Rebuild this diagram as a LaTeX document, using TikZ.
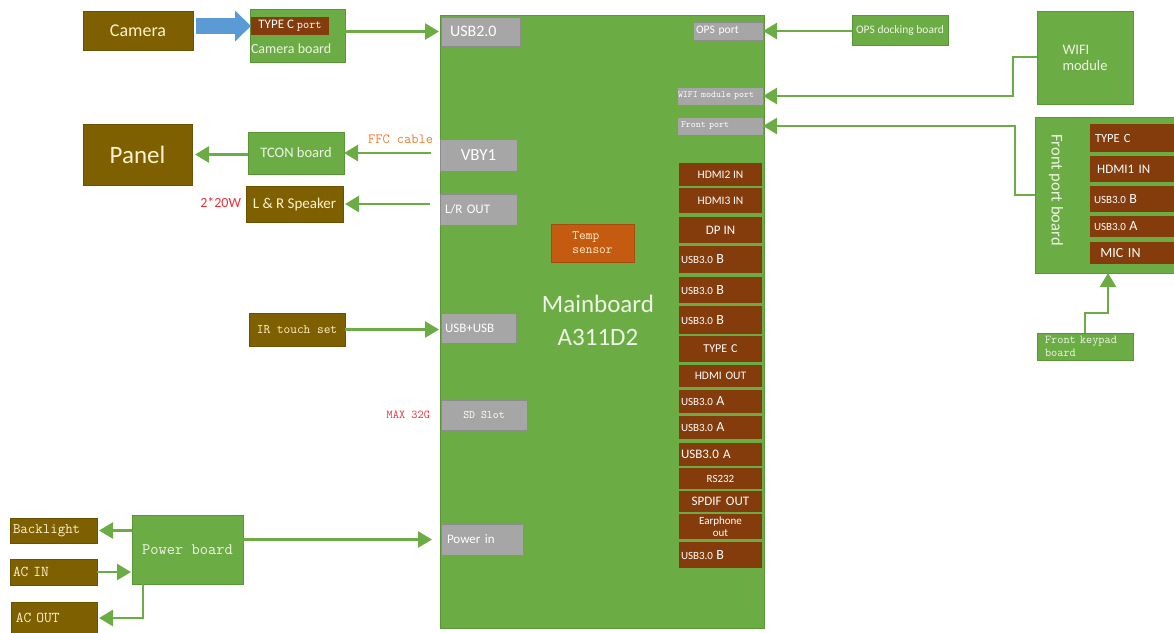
\documentclass[tikz,border=0pt]{standalone}
\usepackage{fontspec}
\setmainfont{Carlito}
\usetikzlibrary{arrows.meta}
\definecolor{gr}{HTML}{6CAC45}
\definecolor{grd}{HTML}{5A9638}
\definecolor{br}{HTML}{7F6000}
\definecolor{rb}{HTML}{843C0C}
\definecolor{gy}{HTML}{A6A6A6}
\definecolor{gyd}{HTML}{8C8C8C}
\definecolor{tmp}{HTML}{C55A11}
\definecolor{blu}{HTML}{5B9BD5}
\definecolor{cream}{HTML}{FFF2CC}
\definecolor{org}{HTML}{ED7D31}
\definecolor{rd}{HTML}{E8303A}
\definecolor{lite}{HTML}{EEF5E6}
\newcommand\fsz[1]{\fontsize{#1}{#1}\selectfont}
\newcommand\mfs[2]{\fontsize{#1}{#2}\selectfont}
\begin{document}
\begin{tikzpicture}[x=1pt,y=-1pt,
  base/.style={inner sep=0pt, outer sep=0pt, line width=1pt, anchor=center},
  gbox/.style={base, fill=gr, draw=grd, text=lite},
  bbox/.style={base, fill=br, draw=br!85!black, text=cream},
  gport/.style={base, fill=gy, draw=gyd, text=white},
  rport/.style={base, fill=rb, draw=gr, line width=1.2pt, text=white},
  conn/.style={draw=gr, line width=2.6pt, -{Triangle[length=14pt,width=16pt]}},
  wire/.style={draw=gr, line width=2.6pt},
  lbl/.style={inner sep=0pt, outer sep=0pt}]
\useasboundingbox (0,0) rectangle (1174,632);
\fill[white] (0,0) rectangle (1174,632);

% ---------- Mainboard ----------
\node[gbox, minimum width=324pt, minimum height=613pt] (mb) at (602,321.5) {};
\node[lbl, text=lite, align=center, font=\mfs{25}{33}] (mbt) at (598,320) {Mainboard\\A311D2};
\node[base, fill=tmp, draw=tmp!85!black, text=cream, minimum width=83pt, minimum height=38pt, align=left, font=\ttfamily\mfs{13}{14}] (temp) at (592.5,243) {Temp\\sensor};

% left ports
\node[gport, minimum height=29pt, text width=61pt, inner xsep=9pt, align=left, font=\fsz{16}] (usb2) at (480.5,31.5) {USB2.0};
\node[gport, minimum height=32pt, minimum width=77pt, font=\fsz{17}] (vby) at (478.5,155) {VBY1};
\node[gport, minimum height=31pt, text width=67pt, inner xsep=5pt, align=left, font=\fsz{13}] (lrout) at (478.5,209.5) {L/R OUT};
\node[gport, minimum height=30pt, text width=67pt, inner xsep=4pt, align=left, font=\fsz{13}] (usbusb) at (478.5,328) {USB+USB};
\node[gport, minimum height=30pt, minimum width=86pt, font=\ttfamily\fsz{11.5}] (sd) at (484,415) {SD Slot};
\node[gport, minimum height=31pt, text width=70pt, inner xsep=6pt, align=left, font=\fsz{13}] (pin) at (482,539.5) {Power in};

% right top ports
\node[gport, minimum height=18pt, text width=64pt, inner xsep=3pt, align=left, font=\fsz{11.5}] (opsp) at (728,31) {OPS port};
\node[gport, minimum height=18pt, text width=84pt, inner xsep=1pt, align=left, font=\ttfamily\fsz{9.5}] (wifip) at (720,96) {WIFI module port};
\node[gport, minimum height=18pt, text width=78pt, inner xsep=4pt, align=left, font=\ttfamily\fsz{9.5}] (frp) at (720,126) {Front port};

% right column
\newcommand\usbl[1]{{\fsz{11}USB3.0 }{\fsz{14}#1}}
\node[rport, minimum width=85pt, minimum height=25pt, font=\fsz{11.5}] (c1) at (720.5,174.5) {HDMI2 IN};
\node[rport, minimum width=85pt, minimum height=27pt, font=\fsz{11.5}] (c2) at (720.5,200.5) {HDMI3 IN};
\node[rport, minimum width=85pt, minimum height=28pt, font=\fsz{13}] (c3) at (720.5,230) {DP IN};
\node[rport, minimum height=29pt, text width=79pt, inner xsep=3pt, align=left] (c4) at (720.5,259.5) {\usbl{B}};
\node[rport, minimum height=28pt, text width=79pt, inner xsep=3pt, align=left] (c5) at (720.5,290) {\usbl{B}};
\node[rport, minimum height=30pt, text width=79pt, inner xsep=3pt, align=left] (c6) at (720.5,320) {\usbl{B}};
\node[rport, minimum height=28pt, text width=71pt, inner xsep=7pt, align=center, font=\fsz{12}] (c7) at (720.5,349) {TYPE C};
\node[rport, minimum height=24pt, text width=71pt, inner xsep=7pt, align=center, font=\fsz{11.5}] (c8) at (720.5,376) {HDMI OUT};
\node[rport, minimum height=25pt, text width=79pt, inner xsep=3pt, align=left] (c9) at (720.5,401.5) {\usbl{A}};
\node[rport, minimum height=25pt, text width=79pt, inner xsep=3pt, align=left] (c10) at (720.5,427.5) {\usbl{A}};
\node[rport, minimum height=25pt, text width=79pt, inner xsep=3pt, align=left, font=\fsz{13}] (c11) at (720.5,454.5) {USB3.0 A};
\node[rport, minimum height=23pt, text width=71pt, inner xsep=7pt, align=center, font=\fsz{11}] (c12) at (720.5,478.5) {RS232};
\node[rport, minimum height=23pt, text width=71pt, inner xsep=7pt, align=center, font=\fsz{13}] (c13) at (720.5,501.5) {SPDIF OUT};
\node[rport, minimum height=27pt, text width=71pt, inner xsep=7pt, align=center, font=\mfs{11}{11.5}] (c14) at (720.5,526.5) {Earphone\\out};
\node[rport, minimum height=28pt, text width=79pt, inner xsep=3pt, align=left] (c15) at (720.5,555) {\usbl{B}};

% ---------- top left ----------
\node[bbox, minimum width=110pt, minimum height=39pt, font=\fsz{18}] (cam) at (138,30.5) {Camera};
\node[gbox, minimum width=95pt, minimum height=53pt] (camb) at (297.5,35.5) {};
\node[base, fill=rb, minimum width=78pt, minimum height=18pt, text=white] (tcp) at (290,26) {\fsz{13}TYPE C \ttfamily\fsz{12}port};
\node[lbl, anchor=west, text=lite, font=\fsz{14}] (cambt) at (251,49) {Camera board};
\draw[draw=blu, line width=16pt, -{Triangle[length=16pt,width=30pt]}, shorten <=3pt] (cam.east |- tcp.west) -- (tcp.west);
\draw[conn, shorten >=2pt] (usb2.west -| camb.east) -- (usb2.west);

% ---------- panel / tcon / speaker ----------
\node[bbox, minimum width=109pt, minimum height=61pt, font=\fsz{25}] (panel) at (137.5,154.5) {Panel};
\node[gbox, minimum width=96pt, minimum height=42pt, font=\fsz{14.5}] (tcon) at (296,153) {TCON board};
\node[lbl, anchor=east, text=org, font=\ttfamily\fsz{14}] (ffc) at (433,139) {FFC cable};
\draw[conn, shorten >=3pt] (tcon.west |- panel.east) -- (panel.east);
\draw[conn, shorten <=9pt] (vby.west |- tcon.east) -- (tcon.east);
\node[bbox, minimum width=97pt, minimum height=36pt, font=\fsz{15}] (spk) at (294.5,204) {L \& R Speaker};
\node[lbl, anchor=east, text=rd, font=\fsz{14}] (w20) at (241,203) {2*20W};
\draw[conn, shorten <=10pt, shorten >=2pt] (spk.east -| lrout.west) -- (spk.east);

% ---------- IR touch / SD ----------
\node[bbox, minimum width=96pt, minimum height=33pt, font=\ttfamily\fsz{13}] (ir) at (297,329.5) {IR touch set};
\draw[conn, shorten >=2pt] (ir.east) -- (ir.east -| usbusb.west);
\node[lbl, anchor=east, text=rd, font=\ttfamily\fsz{12}] (max) at (430,415) {MAX 32G};

% ---------- power ----------
\node[gbox, minimum width=111pt, minimum height=69pt, font=\ttfamily\fsz{16}] (pwr) at (187.5,549.5) {Power board};
\node[bbox, minimum width=87pt, minimum height=25pt, text width=81pt, inner xsep=3pt, align=left, font=\ttfamily\fsz{14.5}] (bkl) at (53.5,530.5) {Backlight};
\node[bbox, minimum height=26pt, text width=81pt, inner xsep=3pt, align=left, font=\ttfamily\fsz{15}] (acin) at (53.5,572) {AC IN};
\node[bbox, minimum height=32pt, text width=76pt, inner xsep=5pt, align=left, font=\ttfamily\fsz{15}] (acout) at (54,618) {AC OUT};
\coordinate (pdn) at (143,584);
\draw[conn, shorten >=2pt] (pwr.west |- bkl.east) -- (bkl.east);
\draw[conn, shorten >=1pt] (acin.east) -- (acin.east -| pwr.west);
\draw[conn, shorten >=2pt] (pdn) |- (acout.east);
\draw[conn, shorten >=9pt] (pwr.east |- pin.west) -- (pin.west);

% ---------- right side ----------
\node[gbox, minimum width=96pt, minimum height=30pt, font=\fsz{11.5}] (opsd) at (900,30) {OPS docking board};
\draw[conn] (opsd.west |- opsp.east) -- (opsp.east);
\node[gbox, minimum width=96pt, minimum height=93pt, align=left, font=\mfs{14.5}{16}] (wifi) at (1085,57.5) {WIFI\\module};
\coordinate (wj) at (1013,57);
\draw[conn] (wifi.west |- wj) -- (wj) |- (wifip.east);

\node[gbox, minimum width=143pt, minimum height=156pt] (fpb) at (1106.5,195) {};
\node[lbl, rotate=-90, text=lite, font=\fsz{16.5}] (fpbt) at (1056,190) {Front port board};
\node[rport, minimum width=89pt, minimum height=30pt, text width=77pt, inner xsep=6pt, align=left, font=\fsz{12.5}] (f1) at (1133.5,138) {TYPE C};
\node[rport, minimum height=28pt, text width=77pt, inner xsep=6pt, align=left, font=\fsz{13}] (f2) at (1133.5,169) {\,HDMI1 IN};
\node[rport, minimum height=28pt, text width=79pt, inner xsep=5pt, align=left] (f3) at (1133.5,199) {\usbl{B}};
\node[rport, minimum height=23pt, text width=79pt, inner xsep=5pt, align=left] (f4) at (1133.5,226.5) {\usbl{A}};
\node[rport, minimum height=24pt, text width=71pt, inner xsep=9pt, align=left, font=\fsz{14}] (f5) at (1133.5,253) {\,MIC IN};
\coordinate (fj) at (1015,195);
\draw[conn] (fpb.west) -- (fj) |- (frp.east);

\node[gbox, minimum width=96pt, minimum height=27pt, text width=80pt, inner xsep=8pt, align=left, font=\ttfamily\mfs{12}{13}] (kp) at (1085,346.5) {Front keypad\\board};
\coordinate (kj) at (1108,313);
\draw[conn] (kp.north) |- (kj) -- (kj |- fpb.south);
\end{tikzpicture}
\end{document}
